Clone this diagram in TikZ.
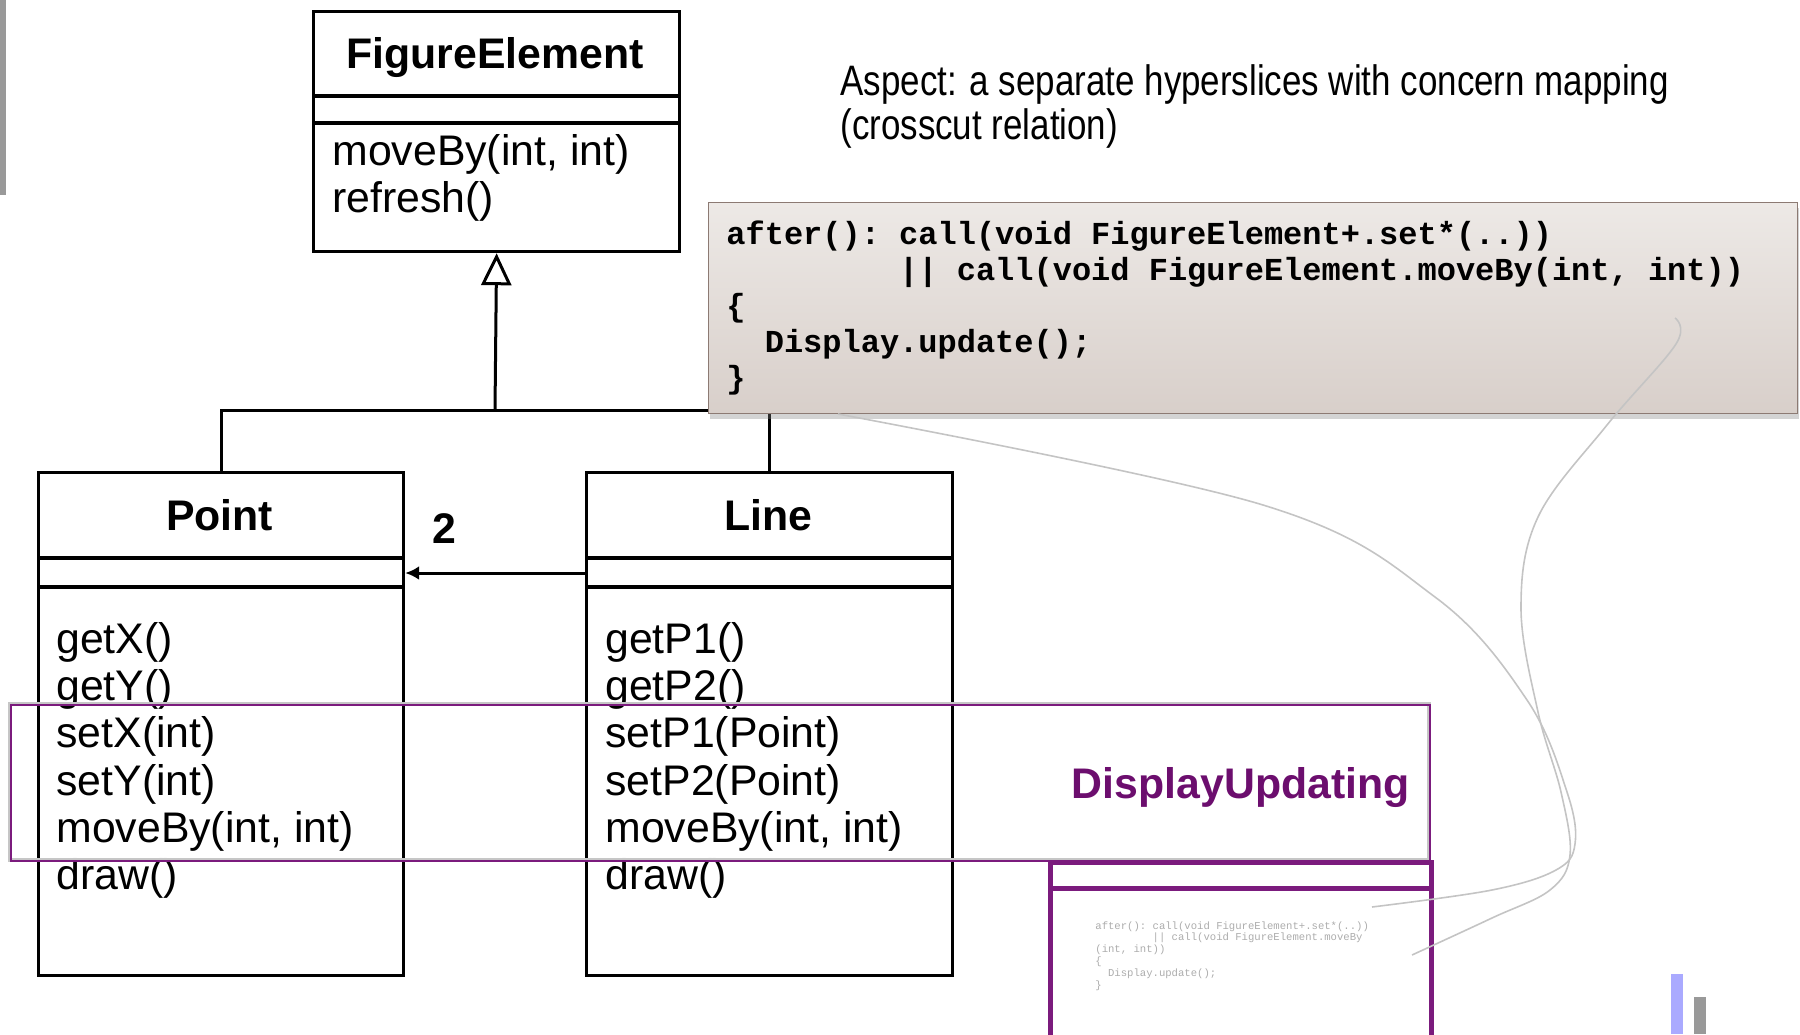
\documentclass[tikz,border=0pt]{standalone}
\usepackage{fontspec}
\setmainfont{Liberation Sans}
\setmonofont{Liberation Mono}
\newfontfamily\narrowsans{Liberation Sans}[FakeStretch=0.82]
\usepackage{xcolor}
\usetikzlibrary{positioning,calc,arrows.meta,shadows}

\definecolor{slice}{RGB}{123,27,125}
\definecolor{slicetext}{RGB}{108,14,110}
\definecolor{codetop}{RGB}{237,233,230}
\definecolor{codebot}{RGB}{216,207,202}
\definecolor{codeedge}{RGB}{140,122,115}
\definecolor{wiregray}{RGB}{196,196,196}
\definecolor{tinygray}{RGB}{172,172,172}
\definecolor{bargray}{RGB}{153,153,153}
\definecolor{barblue}{RGB}{170,170,255}

\tikzset{
  classbox/.style={draw, line width=1.6pt, anchor=north west, inner sep=0pt},
  compline/.style={line width=2pt},
  classname/.style={font=\fontsize{21.4}{25}\selectfont\bfseries, anchor=base, inner sep=0pt},
  method/.style={font=\fontsize{21.4}{25}\selectfont, anchor=west, inner sep=0pt},
  gen/.style={line width=1.5pt},
  codebox/.style={draw=codeedge, line width=0.6pt, anchor=north west, inner sep=0pt,
    minimum width=544.5pt, minimum height=105.5pt, top color=codetop, bottom color=codebot,
    drop shadow={shadow xshift=0.6pt, shadow yshift=-2.5pt, opacity=0.35}},
  codeline/.style={font=\fontsize{16}{19}\selectfont\ttfamily\bfseries, anchor=base west, inner sep=0pt},
  tinycode/.style={font=\fontsize{5.3}{6}\selectfont\ttfamily, text=tinygray, anchor=base west, inner sep=0pt},
  slicebox/.style={draw=slice, line width=1.1pt, anchor=north west, inner sep=0pt,
    minimum width=709.5pt, minimum height=78pt},
  aspectbox/.style={draw=slice, line width=2.5pt, anchor=north west, inner sep=0pt,
    minimum width=190.5pt, minimum height=100pt},
  wire/.style={draw=wiregray, line width=0.8pt},
}

\begin{document}
\begin{tikzpicture}[x=0.5pt, y=-0.5pt]
\useasboundingbox (0,0) rectangle (1800,1034);
\fill[bargray] (0,0) rectangle (6,195);

% FigureElement
\node[classbox, minimum width=183pt, minimum height=120pt] (fe) at (312,10) {};
\draw[compline] (fe.west |- 0,96) -- (fe.east |- 0,96);
\draw[compline] (fe.west |- 0,123) -- (fe.east |- 0,123);
\node[classname] (fename) at (495,68) {FigureElement};
\node[method] (fem1) at (332,154) {moveBy(int, int)};
\node[method] (fem2) at (332,201) {refresh()};

% Point
\node[classbox, minimum width=182.5pt, minimum height=251.5pt] (pt) at (37,471) {};
\draw[compline] (pt.west |- 0,558) -- (pt.east |- 0,558);
\draw[compline] (pt.west |- 0,587) -- (pt.east |- 0,587);
\node[classname] (ptname) at (219.5,530) {Point};
\foreach \m [count=\i] in {getX(), getY(), setX(int), setY(int), {moveBy(int, int)}, draw()}
  \node[method] (ptm\i) at (56, 595+47.3*\i) {\m};

% Line
\node[classbox, minimum width=183pt, minimum height=251.5pt] (ln) at (585,471) {};
\draw[compline] (ln.west |- 0,558) -- (ln.east |- 0,558);
\draw[compline] (ln.west |- 0,587) -- (ln.east |- 0,587);
\node[classname] (lnname) at (768,530) {Line};
\foreach \m [count=\i] in {getP1(), getP2(), setP1(Point), setP2(Point), {moveBy(int, int)}, draw()}
  \node[method] (lnm\i) at (605, 595+47.3*\i) {\m};

% generalization and association
\coordinate (joint) at (495,410);
\draw[gen] (pt.north) -- (pt.north |- joint) -- (ln.north |- joint) -- (ln.north);
\draw[gen, -{Triangle[open, length=16pt, width=15pt]}] (joint) -- (fe.south);
\draw[gen, -{Latex[length=7pt, width=7pt]}] (ln.west |- 0,573) -- (pt.east |- 0,573);
\node[classname] (mult) at (444,543) {2};

% aspect code
\node[codebox] (code) at (708,202) {};
\foreach \txt/\ind [count=\i] in {{after(): call(void FigureElement+.set*(..))}/0,
    {|| call(void FigureElement.moveBy(int, int))}/9, {\{}/0, {Display.update();}/2, {\}}/0}
  \node[codeline] (code\i) at (726+19.2*\ind, 208+36*\i) {\txt};

\node[font=\narrowsans\fontsize{21.3}{22}\selectfont, align=left, anchor=base west, inner sep=0pt]
  (aspect) at (840,139) {Aspect: a separate hyperslices with concern mapping\\(crosscut relation)};

% hyperslice
\draw[gray!45, line width=2.4pt] (10,704) rectangle (1429,860);
\node[slicebox] (slicebox) at (10,704) {};
\node[font=\fontsize{21.4}{25}\selectfont\bfseries, text=slicetext, anchor=base east, inner sep=0pt]
  (slicename) at (1410,798) {DisplayUpdating};

\node[aspectbox] (du) at (1048,860) {};
\draw[slice, line width=2.5pt] (du.west |- 0,888) -- (du.east |- 0,888);
\foreach \txt/\ind [count=\i] in {{after(): call(void FigureElement+.set*(..))}/0,
    {|| call(void FigureElement.moveBy}/9, {(int, int))}/0, {\{}/0, {Display.update();}/2, {\}}/0}
  \node[tinycode] (tiny\i) at (1095+6.36*\ind, 917.2+11.8*\i) {\txt};

% mapping wires
\coordinate (w1a) at (838,414);
\coordinate (w1b) at (1372,907);
\coordinate (w2a) at (1675,318);
\coordinate (w2b) at (1412,955);
\draw[wire] plot[smooth, tension=0.6] coordinates {(w1a) (1263,505) (1435,597) (1527,700) (1567,792) (1575,844) (1556,870) (1492,890) (w1b)};
\draw[wire] plot[smooth, tension=0.6] coordinates {(w2a) (1676,344) (1607,425) (1538,517) (1521,608) (1538,712) (1561,792) (1570,855) (1550,890) (1492,918) (w2b)};

\fill[barblue] (1671,974) rectangle (1683,1034);
\fill[bargray] (1694,997) rectangle (1706,1034);
\end{tikzpicture}
\end{document}
